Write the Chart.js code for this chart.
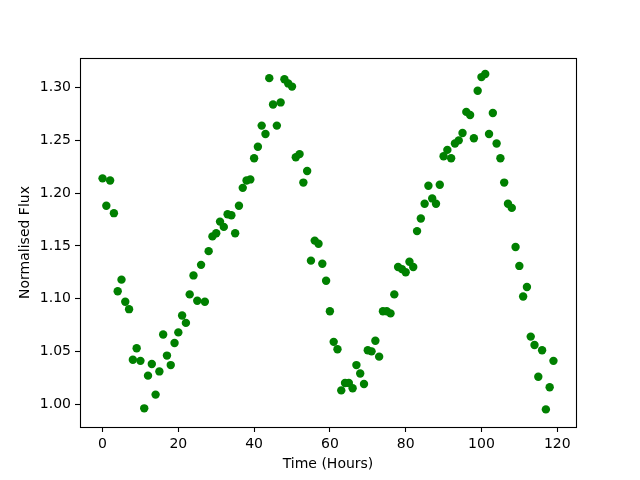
<!DOCTYPE html>
<html>
<head>
<meta charset="utf-8">
<script src="https://cdn.jsdelivr.net/npm/chart.js@4/dist/chart.umd.min.js"></script>
<style>
html,body{margin:0;padding:0;background:#fff;}
#c{display:block;}
</style>
</head>
<body>
<canvas id="c" width="640" height="480"></canvas>
<script>
const hours = [0,1,2,3,4,5,6,7,8,9,10,11,12,13,14,15,16,17,18,19,20,21,22,23,24,25,26,27,28,29,30,31,32,33,34,35,36,37,38,39,40,41,42,43,44,45,46,47,48,49,50,51,52,53,54,55,56,57,58,59,60,61,62,63,64,65,66,67,68,69,70,71,72,73,74,75,76,77,78,79,80,81,82,83,84,85,86,87,88,89,90,91,92,93,94,95,96,97,98,99,100,101,102,103,104,105,106,107,108,109,110,111,112,113,114,115,116,117,118,119];
const flux = [
1.214,1.188,1.212,1.181,1.107,1.118,1.097,1.090,1.042,1.053,
1.041,0.996,1.027,1.038,1.009,1.031,1.066,1.046,1.037,1.058,
1.068,1.084,1.077,1.104,1.122,1.098,1.132,1.097,1.145,1.159,
1.162,1.173,1.168,1.180,1.179,1.162,1.188,1.205,1.212,1.213,
1.233,1.244,1.264,1.256,1.309,1.284,1.264,1.286,1.308,1.304,
1.301,1.234,1.237,1.210,1.221,1.136,1.155,1.152,1.133,1.117,
1.088,1.059,1.052,1.013,1.020,1.020,1.015,1.037,1.029,1.019,
1.051,1.050,1.060,1.045,1.088,1.088,1.086,1.104,1.130,1.128,
1.125,1.135,1.130,1.164,1.176,1.190,1.207,1.195,1.190,1.208,
1.235,1.241,1.233,1.247,1.250,1.257,1.277,1.274,1.252,1.297,
1.310,1.313,1.256,1.276,1.247,1.233,1.210,1.190,1.186,1.149,
1.131,1.102,1.111,1.064,1.056,1.026,1.051,0.995,1.016,1.041
];
const xTicks = [0,20,40,60,80,100,120];
const yTicks = [1.00,1.05,1.10,1.15,1.20,1.25,1.30];
const xLabel = 'Time (Hours)';
const yLabel = 'Normalised Flux';

const FONT = {family: 'DejaVu Sans', size: 14};

const frame = {
  id: 'frame',
  afterDraw(chart) {
    const a = chart.chartArea, ctx = chart.ctx;
    ctx.save();
    ctx.strokeStyle = '#000';
    ctx.lineWidth = 1.1;
    ctx.strokeRect(Math.round(a.left) + 0.5, Math.round(a.top) + 0.5, Math.round(a.right - a.left), Math.round(a.bottom - a.top));
    ctx.restore();
  }
};

new Chart(document.getElementById('c'), {
  type: 'scatter',
  data: {
    datasets: [{
      data: hours.map((h, i) => ({x: h, y: flux[i]})),
      backgroundColor: '#008000',
      borderColor: '#008000',
      pointRadius: 4.2,
      pointBorderWidth: 0,
      pointHoverRadius: 4.2
    }]
  },
  options: {
    responsive: false,
    animation: false,
    events: [],
    layout: {padding: {left: 17, right: 64, top: 58, bottom: 7}},
    plugins: {legend: {display: false}, tooltip: {enabled: false}, title: {display: false}},
    scales: {
      x: {
        type: 'linear',
        min: -5.95, max: 124.95,
        afterBuildTicks: s => { s.ticks = xTicks.map(v => ({value: v})); },
        afterFit: s => { s.height = 46; },
        ticks: {font: FONT, color: '#000', padding: 4, maxRotation: 0, autoSkip: false},
        grid: {display: true, drawOnChartArea: false, drawTicks: true, tickLength: 5, color: '#000', tickWidth: 1.1},
        border: {display: false},
        title: {display: true, text: xLabel, font: FONT, color: '#000', padding: 0}
      },
      y: {
        type: 'linear',
        min: 0.9783, max: 1.3281,
        afterBuildTicks: s => { s.ticks = yTicks.map(v => ({value: v})); },
        afterFit: s => { s.width = 63; },
        ticks: {font: FONT, color: '#000', padding: 4, autoSkip: false, callback: v => Number(v).toFixed(2)},
        grid: {display: true, drawOnChartArea: false, drawTicks: true, tickLength: 5, color: '#000', tickWidth: 1.1},
        border: {display: false},
        title: {display: true, text: yLabel, font: FONT, color: '#000', padding: 0}
      }
    }
  },
  plugins: [frame]
});
</script>
</body>
</html>
